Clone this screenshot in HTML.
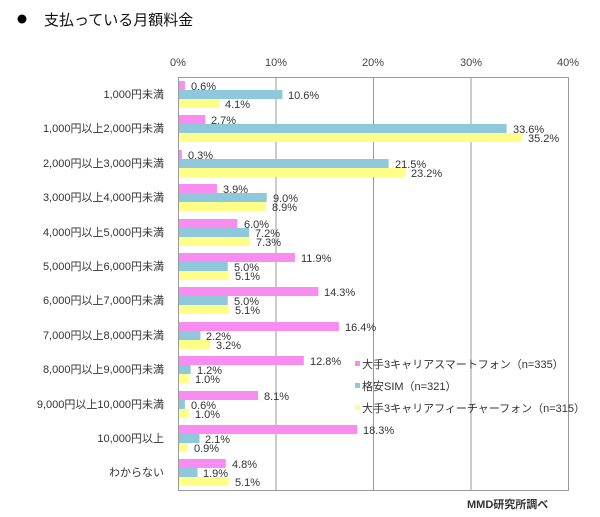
<!DOCTYPE html><html><head><meta charset="utf-8"><style>body{margin:0;background:#fff}svg{display:block}text{font-family:"Liberation Sans","Noto Sans CJK JP",sans-serif}</style></head><body>
<svg width="600" height="517" xmlns="http://www.w3.org/2000/svg">
<circle cx="22" cy="19" r="4.5" fill="#000"/>
<text x="44" y="25" font-size="15" fill="#111">支払っている月額料金</text>
<g font-size="11" fill="#444" text-anchor="middle">
<text x="178" y="66">0%</text><text x="276" y="66">10%</text><text x="373" y="66">20%</text><text x="471" y="66">30%</text><text x="568" y="66">40%</text></g>
<g stroke="#999" stroke-width="1">
<rect x="178.5" y="77.5" width="390" height="413" fill="none"/>
<line x1="276" y1="78" x2="276" y2="490"/><line x1="373.5" y1="78" x2="373.5" y2="490"/><line x1="471" y1="78" x2="471" y2="490"/></g>
<g font-size="11" fill="#333" text-anchor="end">
<text x="164" y="98">1,000円未満</text>
<text x="164" y="132">1,000円以上2,000円未満</text>
<text x="164" y="167">2,000円以上3,000円未満</text>
<text x="164" y="201">3,000円以上4,000円未満</text>
<text x="164" y="236">4,000円以上5,000円未満</text>
<text x="164" y="270">5,000円以上6,000円未満</text>
<text x="164" y="304">6,000円以上7,000円未満</text>
<text x="164" y="339">7,000円以上8,000円未満</text>
<text x="164" y="373">8,000円以上9,000円未満</text>
<text x="164" y="408">9,000円以上10,000円未満</text>
<text x="164" y="442">10,000円以上</text>
<text x="164" y="476">わからない</text>
</g>
<g font-size="11" fill="#333">
<g transform="translate(0,81)"><rect x="179" y="0" width="5.9" height="9" fill="#f88cf0"/><rect x="179" y="9" width="103.4" height="9" fill="#8ec8da"/><rect x="179" y="18" width="40" height="9" fill="#ffff88"/><text x="191" y="9">0.6%</text><text x="288" y="18">10.6%</text><text x="225" y="27">4.1%</text></g>
<g transform="translate(0,115)"><rect x="179" y="0" width="26.3" height="9" fill="#f88cf0"/><rect x="179" y="9" width="327.6" height="9" fill="#8ec8da"/><rect x="179" y="18" width="343.2" height="9" fill="#ffff88"/><text x="211" y="9">2.7%</text><text x="513" y="18">33.6%</text><text x="528" y="27">35.2%</text></g>
<g transform="translate(0,150)"><rect x="179" y="0" width="2.9" height="9" fill="#f88cf0"/><rect x="179" y="9" width="209.6" height="9" fill="#8ec8da"/><rect x="179" y="18" width="226.2" height="9" fill="#ffff88"/><text x="188" y="9">0.3%</text><text x="395" y="18">21.5%</text><text x="411" y="27">23.2%</text></g>
<g transform="translate(0,184)"><rect x="179" y="0" width="38" height="9" fill="#f88cf0"/><rect x="179" y="9" width="87.8" height="9" fill="#8ec8da"/><rect x="179" y="18" width="86.8" height="9" fill="#ffff88"/><text x="223" y="9">3.9%</text><text x="273" y="18">9.0%</text><text x="272" y="27">8.9%</text></g>
<g transform="translate(0,219)"><rect x="179" y="0" width="58.5" height="9" fill="#f88cf0"/><rect x="179" y="9" width="70.2" height="9" fill="#8ec8da"/><rect x="179" y="18" width="71.2" height="9" fill="#ffff88"/><text x="244" y="9">6.0%</text><text x="255" y="18">7.2%</text><text x="256" y="27">7.3%</text></g>
<g transform="translate(0,253)"><rect x="179" y="0" width="116" height="9" fill="#f88cf0"/><rect x="179" y="9" width="48.8" height="9" fill="#8ec8da"/><rect x="179" y="18" width="49.7" height="9" fill="#ffff88"/><text x="301" y="9">11.9%</text><text x="234" y="18">5.0%</text><text x="235" y="27">5.1%</text></g>
<g transform="translate(0,287)"><rect x="179" y="0" width="139.4" height="9" fill="#f88cf0"/><rect x="179" y="9" width="48.8" height="9" fill="#8ec8da"/><rect x="179" y="18" width="49.7" height="9" fill="#ffff88"/><text x="324" y="9">14.3%</text><text x="234" y="18">5.0%</text><text x="235" y="27">5.1%</text></g>
<g transform="translate(0,322)"><rect x="179" y="0" width="159.9" height="9" fill="#f88cf0"/><rect x="179" y="9" width="21.5" height="9" fill="#8ec8da"/><rect x="179" y="18" width="31.2" height="9" fill="#ffff88"/><text x="345" y="9">16.4%</text><text x="206" y="18">2.2%</text><text x="216" y="27">3.2%</text></g>
<g transform="translate(0,356)"><rect x="179" y="0" width="124.8" height="9" fill="#f88cf0"/><rect x="179" y="9" width="11.7" height="9" fill="#8ec8da"/><rect x="179" y="18" width="9.8" height="9" fill="#ffff88"/><text x="310" y="9">12.8%</text><text x="197" y="18">1.2%</text><text x="195" y="27">1.0%</text></g>
<g transform="translate(0,391)"><rect x="179" y="0" width="79" height="9" fill="#f88cf0"/><rect x="179" y="9" width="5.9" height="9" fill="#8ec8da"/><rect x="179" y="18" width="9.8" height="9" fill="#ffff88"/><text x="264" y="9">8.1%</text><text x="191" y="18">0.6%</text><text x="195" y="27">1.0%</text></g>
<g transform="translate(0,425)"><rect x="179" y="0" width="178.4" height="9" fill="#f88cf0"/><rect x="179" y="9" width="20.5" height="9" fill="#8ec8da"/><rect x="179" y="18" width="8.8" height="9" fill="#ffff88"/><text x="363" y="9">18.3%</text><text x="205" y="18">2.1%</text><text x="194" y="27">0.9%</text></g>
<g transform="translate(0,459)"><rect x="179" y="0" width="46.8" height="9" fill="#f88cf0"/><rect x="179" y="9" width="18.5" height="9" fill="#8ec8da"/><rect x="179" y="18" width="49.7" height="9" fill="#ffff88"/><text x="232" y="9">4.8%</text><text x="203" y="18">1.9%</text><text x="235" y="27">5.1%</text></g>
</g>
<text x="467" y="508" font-size="11" font-weight="bold" fill="#333">MMD研究所調べ</text>
<g font-size="11" fill="#333">
<rect x="355" y="361" width="5" height="5" fill="#f88cf0"/><text x="362" y="368">大手3キャリアスマートフォン（n=335）</text>
<rect x="355" y="383" width="5" height="5" fill="#8ec8da"/><text x="362" y="390">格安SIM（n=321）</text>
<rect x="355" y="405" width="5" height="5" fill="#ffff88"/><text x="362" y="412">大手3キャリアフィーチャーフォン（n=315）</text></g>
</svg></body></html>
